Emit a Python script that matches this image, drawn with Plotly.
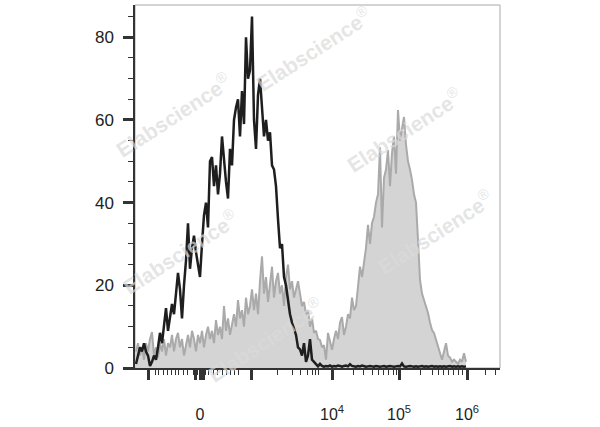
import plotly.graph_objects as go

# ---- data (display channels, 2-channel bins) ----
black_counts = [
    1, 3, 5, 4, 6, 4, 3, 0.5, 1.5, 3, 2, 5, 8.5, 6, 10, 14.5, 9, 12, 15.5, 13,
    18, 23, 19, 12, 20, 26, 35, 24, 29, 32, 28, 25, 22, 30, 37, 40, 34, 50, 51, 44,
    49, 42, 47, 56, 50, 45, 41, 53, 49, 60, 63, 65, 56, 67, 59, 80, 70, 72, 85, 60,
    53, 66, 70, 64, 56, 60, 55, 57, 49, 48, 44, 36, 29, 30, 22, 20, 16, 13, 11, 9.5,
    8, 5, 4.5, 3, 6, 1.5, 3, 7, 2, 1.5, 0.8, 0.4, 1, 0.5, 0.3,
    0.5, 0.4, 0.6, 0.3, 0.5, 0.4, 0.6, 0.5, 0.3, 0.5, 0.6, 0.4, 0.9, 0.5, 0.4, 0.3,
    0.5, 0.4, 0.6, 0.5, 0.3, 0.4, 0.5, 0.4, 0.3, 0.5, 0.4, 0.3, 0.4, 0.5, 0.3, 0.4,
    0.5, 0.4, 0.3, 0.4, 0.5, 0.4, 1.1, 0.4, 0.3, 0.4, 0.5, 0.4, 0.3, 0.4, 0.3, 0.4,
    0.5, 0.3, 0.4, 0.3, 0.4, 0.5, 0.3, 0.4, 0.3, 0.4, 0.3, 0.4, 0.3, 0.4, 0.5, 0.3,
    0.4, 0.3, 0.4, 0.3, 0.4, 0.3, 0.4,
]
grey_counts = [
    4, 6, 3, 5, 2, 6, 4, 7, 8.7, 3, 5, 2.5, 6, 4, 7, 3, 6, 5, 8, 4,
    7, 8.5, 5, 7, 3, 6, 8, 5, 9, 7, 4, 8, 6, 9, 5, 8, 10, 7, 9, 6,
    11.6, 8, 10, 7, 15, 9, 12, 8, 11, 13, 10, 16.4, 12, 14, 10, 17, 13, 15, 19, 14,
    18, 13, 21, 27, 18, 22, 16, 20, 24.5, 17, 21, 23, 18, 20, 15, 22, 25, 19, 21, 17,
    19, 21, 18, 15, 16, 13, 14, 10, 12, 8.5, 9, 7, 6.8, 5, 5.5, 2, 8.5, 6, 4.4, 7,
    9, 7, 11, 12.3, 8, 10, 13, 12, 17, 14, 15, 19.6, 24.5, 22, 26, 29, 34.6, 30, 35, 36.6,
    40, 42, 53.4, 34, 46, 48, 52.7, 44, 52, 56, 47, 62.4, 55, 58, 60.7, 54, 50, 48, 45.5, 42,
    40, 31, 21.3, 18, 16.4, 15, 13.3, 11, 9.2, 8.5, 7, 5, 3.5, 2, 4, 6, 3, 2.5, 1.5, 2,
    1.5, 1, 2, 1.5, 3.6, 1.5, 1, 1.8, 1, 1.5, 1.2, 1.8, 2.4, 1.2, 2, 2.7, 1.4, 1, 2, 1,
    1.5, 2.5,
]
n_bins = min(len(black_counts), len(grey_counts))
channels = [1 + 2 * i for i in range(n_bins)]

# axis ticks (display channel positions)
major_ticks = [13, 60, 68, 116, 197, 264, 332]
major_labels = ["", "", "", "", "10<sup>4</sup>", "10<sup>5</sup>", "10<sup>6</sup>"]
zero_label_pos = [65]
zero_label = ["0"]
minor_ticks = [20, 23, 28, 32, 36, 40, 43, 48, 52, 58, 62, 64, 66, 70, 73, 78, 82, 87,
               91, 95, 99, 103, 142, 157, 165, 172, 177, 180, 183, 218, 228, 237, 243,
               248, 253, 258, 261, 285, 297, 303, 308, 313, 318, 323, 327, 350, 360]
y_major = [0, 20, 40, 60, 80]

fig = go.Figure()
fig.add_trace(go.Scatter(
    x=channels, y=grey_counts[:n_bins], mode="lines",
    line=dict(color="#aaaaaa", width=2), fill="tozeroy", fillcolor="#d4d4d4",
    hoverinfo="skip", showlegend=False))
fig.add_trace(go.Scatter(
    x=channels, y=black_counts[:n_bins], mode="lines",
    line=dict(color="#1e1e1e", width=2.5),
    hoverinfo="skip", showlegend=False))

tickvals = major_ticks + zero_label_pos
ticktext = major_labels + zero_label

fig.update_xaxes(
    range=[0, 365], showgrid=False, zeroline=False,
    showline=True, linecolor="#333333", linewidth=1.5,
    ticks="outside", ticklen=10, tickwidth=2.5, tickcolor="#333333",
    tickvals=tickvals, ticktext=ticktext, ticklabelstandoff=21,
    minor=dict(tickvals=minor_ticks, ticks="outside", ticklen=5, tickwidth=1.3,
               tickcolor="#333333", showgrid=False),
    tickfont=dict(size=16, color="#222222", family="Liberation Sans, Arial, sans-serif"),
)
fig.update_yaxes(
    range=[0, 87.8], showgrid=False, zeroline=False,
    showline=True, linecolor="#333333", linewidth=1.5,
    ticks="outside", ticklen=10, tickwidth=2.5, tickcolor="#333333",
    tickvals=y_major, ticktext=[str(v) for v in y_major], ticklabelstandoff=6,
    minor=dict(dtick=5, ticks="outside", ticklen=5, tickwidth=1.3,
               tickcolor="#333333", showgrid=False),
    tickfont=dict(size=17, color="#222222", family="Liberation Sans, Arial, sans-serif"),
)

# frame (top/right grey)
fig.add_shape(type="rect", xref="paper", yref="paper", x0=0, y0=0, x1=1, y1=1,
              line=dict(color="#a8a8a8", width=1), layer="below")

# watermarks
wm_pos = [(0.104, 0.697), (0.488, 0.88), (0.737, 0.656),
          (0.822, 0.375), (0.123, 0.320), (0.356, 0.077)]
for (xp, yp) in wm_pos:
    fig.add_annotation(x=xp, y=yp, xref="paper", yref="paper",
                       xanchor="center", yanchor="middle",
                       text="<b>Elabscience</b><sup>®</sup>", showarrow=False,
                       textangle=-33,
                       font=dict(size=21, color="rgba(218,218,218,0.7)",
                                 family="Liberation Sans, Arial, sans-serif"))

fig.update_layout(
    width=600, height=427,
    margin=dict(l=135, r=100, t=5, b=59),
    paper_bgcolor="white", plot_bgcolor="white",
    showlegend=False,
)
fig.write_html("out.html", config={"displayModeBar": False},
               post_script="document.body.style.margin='0px';document.body.style.overflow='hidden';")
